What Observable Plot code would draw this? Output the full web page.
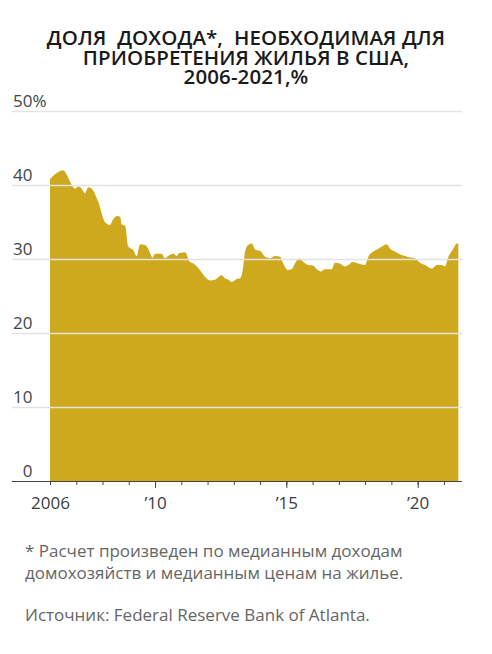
<!DOCTYPE html>
<html>
<head>
<meta charset="utf-8">
<script src="https://cdn.jsdelivr.net/npm/d3@7"></script>
<script src="https://cdn.jsdelivr.net/npm/@observablehq/plot@0.6"></script>
<style>
  html, body { margin: 0; padding: 0; background: #fff; }
  #wrap { position: relative; width: 492px; height: 654px; font-family: "Open Sans", sans-serif; overflow: hidden; }
  #title { position: absolute; left: 0; top: 28px; width: 492px; text-align: center; font-weight: 600; font-size: 20.5px; line-height: 19.5px; color: #1a1a1a; letter-spacing: 0.1px; }
  #chart { position: absolute; left: 0; top: 90px; }
  .note { position: absolute; left: 25px; font-size: 17px; line-height: 22px; color: #666; }
</style>
</head>
<body>
<div id="wrap">
  <div id="title">ДОЛЯ&nbsp; ДОХОДА*,&nbsp; НЕОБХОДИМАЯ ДЛЯ<br>ПРИОБРЕТЕНИЯ ЖИЛЬЯ В США,<br>2006-2021,%</div>
  <div id="chart"></div>
  <div class="note" style="top:540px">* Расчет произведен по медианным доходам<br>домохозяйств и медианным ценам на жилье.</div>
  <div class="note" style="top:604px">Источник: Federal Reserve Bank of Atlanta.</div>
</div>
<script>
const years = [2006.00, 2006.51, 2006.64, 2006.83, 2006.95, 2007.08, 2007.21, 2007.33, 2007.46, 2007.59, 2007.84,
  2008.09, 2008.28, 2008.41, 2008.56, 2008.67, 2008.73, 2008.86, 2008.98, 2009.17, 2009.30, 2009.43, 2009.62, 2009.74, 2009.91,
  2010.00, 2010.25, 2010.38, 2010.50, 2010.70, 2010.82, 2010.92, 2011.14, 2011.33, 2011.46, 2011.71, 2011.90,
  2012.09, 2012.28, 2012.54, 2012.66, 2012.79, 2012.92, 2013.11, 2013.24, 2013.34, 2013.43, 2013.55, 2013.68, 2013.81,
  2014.00, 2014.19, 2014.38, 2014.57, 2014.76, 2014.88, 2015.07, 2015.20, 2015.33, 2015.49, 2015.65, 2015.84,
  2016.03, 2016.16, 2016.32, 2016.47, 2016.73, 2016.85, 2017.04, 2017.23, 2017.36, 2017.53, 2017.74,
  2018.00, 2018.12, 2018.31, 2018.50, 2018.69, 2018.82, 2018.95, 2019.14, 2019.33, 2019.52, 2019.71, 2019.90,
  2020.09, 2020.28, 2020.54, 2020.73, 2020.92, 2021.04, 2021.17, 2021.36, 2021.49, 2021.55];
const values = [40.8, 42.0, 41.4, 40.0, 39.5, 39.8, 39.5, 38.9, 39.7, 39.5, 37.7,
  35.0, 34.6, 35.4, 35.8, 35.7, 34.7, 34.5, 31.7, 31.2, 30.4, 32.0, 31.9, 31.4, 30.2,
  30.7, 30.7, 30.1, 30.4, 30.7, 30.4, 30.8, 30.9, 29.6, 29.4, 28.5, 27.6,
  27.1, 27.2, 27.8, 27.4, 27.2, 26.9, 27.3, 27.4, 28.5, 31.0, 31.9, 32.1, 31.3,
  31.1, 30.3, 30.1, 30.4, 30.3, 29.4, 28.5, 28.6, 29.4, 30.1, 29.6, 29.2,
  29.1, 28.6, 28.3, 28.6, 28.6, 29.5, 29.4, 29.0, 29.2, 29.6, 29.4,
  29.2, 30.3, 31.0, 31.4, 31.8, 32.0, 31.4, 31.0, 30.6, 30.4, 30.2, 30.1,
  29.5, 29.2, 28.7, 29.2, 29.2, 29.0, 30.3, 31.4, 32.1, 32.1];
const yTicks = [0, 10, 20, 30, 40, 50];
const labelYears = [2006, 2010, 2015, 2020];
const labelTexts = ["2006", "’10", "’15", "’20"];
const majorYears = [2010, 2015, 2020];
const minorYears = d3.range(2006, 2022);

const data = years.map((y, i) => ({year: y, value: values[i]}));
const labelMap = new Map(labelYears.map((y, i) => [y, labelTexts[i]]));

const chart = Plot.plot({
  width: 492,
  height: 430,
  marginLeft: 12,
  marginRight: 30,
  marginTop: 21,
  marginBottom: 39,
  style: {fontFamily: "Open Sans, sans-serif", background: "transparent"},
  x: {domain: [2004.553, 2021.689], axis: null, label: null},
  y: {domain: [0, 50], axis: null, label: null},
  marks: [
    Plot.areaY(data, {x: "year", y: "value", fill: "#CEA91D", curve: "monotone-x"}),
    Plot.gridY(yTicks.filter(d => d > 0), {stroke: "#e3e3e3", strokeOpacity: 1, strokeWidth: 1.3}),
    Plot.text(yTicks, {y: d => d, frameAnchor: "left", dx: 20, text: d => String(d), textAnchor: "end", lineAnchor: "bottom", dy: -5, fontSize: 17, fill: "#3f4448"}),
    Plot.text([50], {y: d => d, frameAnchor: "left", dx: 20, text: () => "%", textAnchor: "start", lineAnchor: "bottom", dy: -5, fontSize: 17, fill: "#3f4448"}),
    Plot.ruleY([0], {stroke: "#444", strokeWidth: 1.2}),
    Plot.axisX({ticks: minorYears, tickSize: 4, text: null, label: null, stroke: "#444"}),
    Plot.axisX({ticks: majorYears, tickSize: 7, text: null, label: null, stroke: "#444"}),
    Plot.axisX({ticks: labelYears, tickSize: 0, tickPadding: 15, label: null, tickFormat: d => labelMap.get(d), fontSize: 17, fill: "#3a3d40"})
  ]
});
document.getElementById("chart").appendChild(chart);
</script>
</body>
</html>
